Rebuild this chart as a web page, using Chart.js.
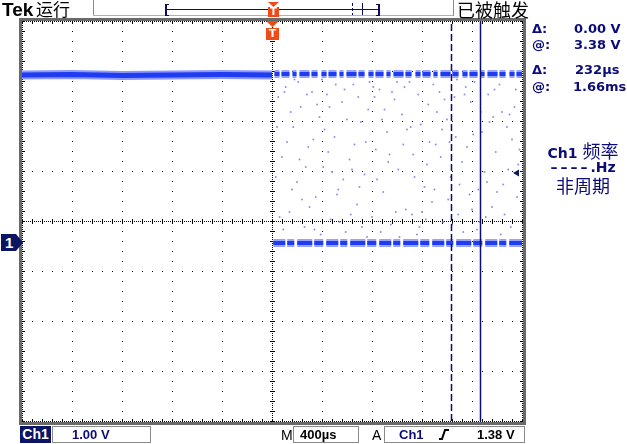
<!DOCTYPE html>
<html><head><meta charset="utf-8">
<script src="https://cdn.jsdelivr.net/npm/chart.js@4/dist/chart.umd.min.js"></script>
<style>
html,body{margin:0;padding:0;background:#fff;}
#wrap{position:relative;width:627px;height:444px;overflow:hidden;background:#fff;}
#c{position:absolute;left:0;top:0;}
.t{position:absolute;white-space:nowrap;line-height:1;}
.cjk{font-family:"Noto Sans CJK SC",sans-serif;font-weight:400;}
.rd{font-family:"DejaVu Sans",sans-serif;font-weight:bold;font-size:13px;color:#0c0c78;}
.bt{font-family:"Liberation Sans",Arial,sans-serif;font-weight:bold;font-size:13px;}
.box{position:absolute;border:1px solid #8a8a8a;box-sizing:border-box;}
.ln{position:absolute;}
</style></head><body>
<div id="wrap">
<canvas id="c" width="627" height="444"></canvas>

<!-- top status bar -->
<div class="t" style="left:2px;top:0px;font-family:'Liberation Sans',Arial,sans-serif;font-weight:bold;font-size:19px;color:#000;">Tek</div>
<div class="t cjk" style="left:36px;top:0px;font-size:17px;color:#000;">运行</div>
<div class="ln" style="left:93px;top:0;width:1px;height:16px;background:#8a8a8a;"></div>
<div class="ln" style="left:93px;top:15px;width:360px;height:1px;background:#b0b0b0;"></div>
<div class="ln" style="left:453px;top:0;width:1px;height:16px;background:#8a8a8a;"></div>
<div class="t cjk" style="left:457px;top:0px;font-size:18px;color:#000;">已被触发</div>
<!-- record bar -->
<div class="ln" style="left:165px;top:4px;width:2px;height:12px;background:#0c0c60;"></div>
<div class="ln" style="left:165px;top:4px;width:4px;height:1px;background:#0c0c60;"></div>
<div class="ln" style="left:165px;top:15px;width:4px;height:1px;background:#0c0c60;"></div>
<div class="ln" style="left:165px;top:9px;width:215px;height:1px;background:#0c0c60;"></div>
<div class="ln" style="left:378px;top:4px;width:2px;height:12px;background:#0c0c60;"></div>
<div class="ln" style="left:376px;top:4px;width:4px;height:1px;background:#0c0c60;"></div>
<div class="ln" style="left:376px;top:15px;width:4px;height:1px;background:#0c0c60;"></div>
<div class="ln" style="left:352px;top:3px;width:1px;height:12px;background:repeating-linear-gradient(#0c0c60 0 3px,transparent 3px 5px);"></div>
<div class="ln" style="left:362px;top:3px;width:1px;height:12px;background:#0c0c60;"></div>
<div class="ln" style="left:268px;top:2px;width:11px;height:5px;background:#f24a16;clip-path:polygon(0 0,100% 0,50% 100%);"></div>
<div class="t" style="left:268px;top:7px;width:11px;height:10px;background:#f24a16;color:#fff;font-family:'DejaVu Sans',sans-serif;font-weight:bold;font-size:10px;text-align:center;line-height:10px;">T</div>
<!-- trigger marker below top border -->
<div class="ln" style="left:266px;top:21px;width:13px;height:6px;background:#f24a16;clip-path:polygon(0 0,100% 0,50% 100%);"></div>
<div class="t" style="left:266px;top:28px;width:13px;height:12px;background:#f24a16;color:#fff;font-family:'DejaVu Sans',sans-serif;font-weight:bold;font-size:11px;text-align:center;line-height:12px;">T</div>

<!-- ground marker -->
<div class="t" style="left:1px;top:234px;width:22px;height:17px;background:#0c1464;clip-path:polygon(0 0,68% 0,100% 50%,68% 100%,0 100%);color:#fff;font-family:'Liberation Sans',Arial,sans-serif;font-weight:bold;font-size:15px;line-height:17px;padding-left:4px;box-sizing:border-box;">1</div>

<!-- right readouts -->
<div class="t rd" style="left:532px;top:22px;">Δ:</div>
<div class="t rd" style="left:574px;top:22px;">0.00 V</div>
<div class="t rd" style="left:532px;top:38px;">@:</div>
<div class="t rd" style="left:574px;top:38px;">3.38 V</div>
<div class="t rd" style="left:532px;top:63px;">Δ:</div>
<div class="t rd" style="left:575px;top:63px;">232µs</div>
<div class="t rd" style="left:532px;top:80px;">@:</div>
<div class="t rd" style="left:573px;top:80px;">1.66ms</div>

<div class="t" style="left:537px;top:141px;width:92px;text-align:center;color:#0c0c78;"><span style="font-family:'DejaVu Sans',sans-serif;font-weight:bold;font-size:14px;">Ch1 </span><span class="cjk" style="font-size:18px;">频率</span></div>
<div class="t" style="left:537px;top:160px;width:92px;text-align:center;color:#0c0c78;font-family:'DejaVu Sans',sans-serif;font-weight:bold;font-size:14px;"><span style="letter-spacing:3px;">––––</span>.Hz</div>
<div class="t cjk" style="left:537px;top:176px;width:92px;text-align:center;color:#0c0c78;font-size:18px;">非周期</div>

<!-- bottom bar -->
<div class="t bt" style="left:20px;top:426px;width:31px;height:17px;background:#0c1464;color:#fff;font-size:14px;line-height:17px;text-align:center;">Ch1</div>
<div class="box" style="left:52px;top:426px;width:99px;height:17px;"></div>
<div class="t bt" style="left:72px;top:428px;color:#0c0c78;">1.00 V</div>
<div class="t" style="left:281px;top:428px;font-family:'Liberation Sans',Arial,sans-serif;font-size:14px;color:#000;">M</div>
<div class="box" style="left:293px;top:426px;width:66px;height:17px;"></div>
<div class="t bt" style="left:300px;top:428px;color:#000;">400µs</div>
<div class="t" style="left:372px;top:428px;font-family:'Liberation Sans',Arial,sans-serif;font-size:14px;color:#000;">A</div>
<div class="box" style="left:384px;top:426px;width:141px;height:17px;"></div>
<div class="t bt" style="left:399px;top:428px;color:#0c0c78;">Ch1</div>
<svg style="position:absolute;left:439px;top:429px;" width="10" height="11"><path d="M0 10 H3 L6 1 H10" stroke="#000" stroke-width="2" fill="none"/></svg>
<div class="t bt" style="left:477px;top:428px;color:#000;">1.38 V</div>
</div>

<script>
// ---- scope settings ----
const timePerDiv = 0.4;          // ms/div (400 µs)
const voltsPerDiv = 1.0;         // V/div
const timeRange = [-2.0, 2.0];   // ms, 10 divisions, trigger at 0
const voltRange = [-3.58, 4.42]; // V, 8 divisions, ground marker 0.42 V below centre

// ---- Ch1 trace: high level before trigger ----
const preTime  = [-2.0, -1.6, -1.2, -0.8, -0.4, 0.0];
const preVolt  = [3.34, 3.35, 3.33, 3.34, 3.35, 3.34];
// ---- after trigger: upper and lower levels ----
const postHighTime = [0.02, 2.0];
const postHighVolt = [3.36, 3.36];
const postLowTime  = [0.01, 2.0];
const postLowVolt  = [-0.02, -0.02];
// ---- sparse transition points after trigger ----
const dotTime = [0.05,0.08,0.11,0.14,0.17,0.2,0.23,0.26,0.29,0.32,0.35,0.38,0.41,0.44,0.47,0.5,0.53,0.56,0.59,0.62,
0.65,0.68,0.71,0.74,0.77,0.8,0.83,0.86,0.89,0.92,0.95,0.98,1.01,1.04,1.07,1.1,1.13,1.16,1.19,1.22,
1.25,1.28,1.31,1.34,1.37,1.4,1.43,1.46,1.49,1.52,1.55,1.58,1.61,1.64,1.67,1.7,1.73,1.76,1.79,1.82,
1.85,1.88,1.91,1.94,1.97,0.03,0.09,0.15,0.21,0.27,0.33,0.39,0.45,0.51,0.57,0.63,0.69,0.75,0.81,0.87,
0.93,0.99,1.05,1.11,1.17,1.23,1.29,1.35,1.41,1.47,1.53,1.59,1.65,1.71,1.77,1.83,1.89,1.95,
0.12,0.24,0.36,0.48,0.6,0.72,0.84,0.96,1.08,1.2,1.32,1.44,1.56,1.68,1.8,1.92,
0.06,0.18,0.3,0.42,0.54,0.66,0.78,0.9,1.02,1.14,1.26,1.38,1.5,1.62,1.74,1.86,1.98,
0.04,0.16,0.28,0.4,0.52,0.64,0.76,0.88,1.0,1.12,1.24,1.36,1.48,1.6,1.72,1.84,1.96,
0.1,0.22,0.34,0.46,0.58,0.7,0.82,0.94,1.06,1.18,1.3,1.42,1.54,1.66,1.78,1.9];
const dotVolt = [2.9,1.7,3.1,0.6,2.3,1.2,2.7,0.3,1.9,3.0,0.9,2.5,1.5,2.95,0.45,2.1,1.05,2.8,0.2,1.65,
3.15,0.75,2.4,1.35,2.65,0.5,1.85,3.05,1.0,2.2,0.35,2.85,1.45,2.55,0.65,3.2,1.75,0.15,2.35,1.1,
2.75,0.8,1.95,3.0,0.4,2.45,1.3,2.9,0.55,1.6,3.1,0.95,2.15,0.25,2.6,1.4,2.95,0.7,1.8,3.15,
1.15,2.3,0.3,2.7,1.55,1.3,0.25,2.6,3.2,1.5,2.05,0.15,1.8,3.15,1.25,0.55,2.9,2.0,3.1,0.2,
1.6,0.6,1.95,2.3,2.95,0.45,3.15,1.7,0.85,2.1,0.2,2.8,1.05,0.5,2.5,0.15,1.45,3.05,
2.0,0.85,2.75,1.4,2.45,0.3,1.25,3.0,2.25,0.6,2.6,0.35,1.9,2.2,1.0,2.05,
0.5,3.25,0.7,2.25,0.4,1.95,3.2,2.65,0.1,1.3,2.0,2.85,1.15,3.2,2.4,0.55,1.85,
2.3,1.05,2.95,3.25,0.95,1.45,0.1,2.45,3.2,0.55,1.55,2.25,3.25,0.65,1.2,2.6,0.9,
3.0,1.65,0.25,2.7,3.05,1.1,2.9,1.75,3.1,0.3,1.05,2.0,2.95,0.4,3.05,2.55];
// ---- cursors and trigger ----
const cursorTimes = [1.436, 1.668];  // ms (Δ 232 µs)
const triggerLevel = 1.38;           // V
const triggerMarkTime = 1.96;        // ms, level arrow at right edge

const xy = (ts, vs) => ts.map((t, i) => ({x: t, y: vs[i]}));

const border = {
  id: 'border',
  beforeDraw(ch) {
    const {ctx, chartArea: a} = ch;
    ctx.save();
    ctx.fillStyle = '#fff';
    ctx.fillRect(0, 0, ch.width, ch.height);
    ctx.fillStyle = '#6a6a6a';
    ctx.fillRect(a.left - 3, a.top - 3, a.right - a.left + 7, a.bottom - a.top + 7);
    ctx.fillStyle = '#fff';
    ctx.fillRect(a.left, a.top, a.right - a.left + 1, a.bottom - a.top + 1);
    ctx.restore();
  }
};

const graticule = {
  id: 'graticule',
  beforeDatasetsDraw(ch) {
    const {ctx, chartArea: a, scales: {x, y}} = ch;
    ctx.save();
    ctx.fillStyle = '#000';
    const dot = (px, py, w = 1, h = 1) => ctx.fillRect(Math.round(px), Math.round(py), w, h);
    const nx = Math.round((timeRange[1] - timeRange[0]) / timePerDiv);
    const ny = Math.round((voltRange[1] - voltRange[0]) / voltsPerDiv);
    const minor = 5;
    for (let i = 0; i <= nx; i++) {
      const px = x.getPixelForValue(timeRange[0] + i * timePerDiv);
      const dense = (i === 0 || i === nx || i === nx / 2);
      if (dense) for (let py = a.top; py <= a.bottom; py += 2) dot(px, py);
      for (let j = 0; j <= ny * minor; j++) {
        const py = y.getPixelForValue(voltRange[1] - j * voltsPerDiv / minor);
        if (i === nx / 2) dot(px - 2, py, 5, 1);
        else if (i === 0) dot(px, py, 3, 1);
        else if (i === nx) dot(px - 2, py, 3, 1);
        else dot(px, py);
      }
    }
    for (let j = 0; j <= ny; j++) {
      const py = y.getPixelForValue(voltRange[1] - j * voltsPerDiv);
      const dense = (j === 0 || j === ny || j === ny / 2);
      if (dense) for (let px = a.left; px <= a.right; px += 2) dot(px, py);
      for (let i = 0; i <= nx * minor; i++) {
        const px = x.getPixelForValue(timeRange[0] + i * timePerDiv / minor);
        if (j === ny / 2) dot(px, py - 2, 1, 5);
        else if (j === 0) dot(px, py, 1, 3);
        else if (j === ny) dot(px, py - 2, 1, 3);
        else dot(px, py);
      }
    }
    ctx.restore();
  }
};

const lineDs = (data, color, width, order, dash) => ({
  data, showLine: true, borderColor: color, borderWidth: width, pointRadius: 0,
  borderDash: dash || [], order, borderCapStyle: 'butt', tension: 0
});

new Chart(document.getElementById('c'), {
  type: 'scatter',
  data: {
    datasets: [
      {data: xy(dotTime, dotVolt), pointRadius: 1, pointBorderWidth: 0,
       backgroundColor: '#8e8ef2', borderColor: '#8e8ef2', order: 9},
      lineDs(xy(preTime, preVolt), '#8f98ff', 9, 6),
      lineDs(xy(preTime, preVolt), '#1e3cf0', 5, 5),
      lineDs(xy(postHighTime, postHighVolt), '#9aa2ff', 8, 6, [5, 2, 8, 3, 4, 3, 10, 2, 6, 4]),
      lineDs(xy(postHighTime, postHighVolt), '#1e3cf0', 4, 5, [5, 2, 8, 3, 4, 3, 10, 2, 6, 4]),
      lineDs(xy(postLowTime, postLowVolt), '#9aa2ff', 8, 6, [12, 2, 7, 3, 15, 2, 9, 3]),
      lineDs(xy(postLowTime, postLowVolt), '#1e3cf0', 4, 5, [12, 2, 7, 3, 15, 2, 9, 3]),
      lineDs([{x: cursorTimes[0], y: voltRange[0]}, {x: cursorTimes[0], y: voltRange[1]}], '#0c0c70', 1.5, 1, [7, 3]),
      lineDs([{x: cursorTimes[1], y: voltRange[0]}, {x: cursorTimes[1], y: voltRange[1]}], '#0c0c70', 1.5, 1),
      {data: [{x: triggerMarkTime, y: triggerLevel}], pointStyle: 'triangle', rotation: 270,
       pointRadius: 4, backgroundColor: '#0c1464', borderColor: '#0c1464', borderWidth: 0, order: 0}
    ]
  },
  options: {
    responsive: false,
    animation: false,
    events: [],
    layout: {padding: {left: 22, top: 21, right: 105, bottom: 23}},
    scales: {
      x: {type: 'linear', min: timeRange[0], max: timeRange[1], display: false},
      y: {type: 'linear', min: voltRange[0], max: voltRange[1], display: false}
    },
    plugins: {legend: {display: false}, tooltip: {enabled: false}}
  },
  plugins: [border, graticule]
});
</script>
</body></html>
